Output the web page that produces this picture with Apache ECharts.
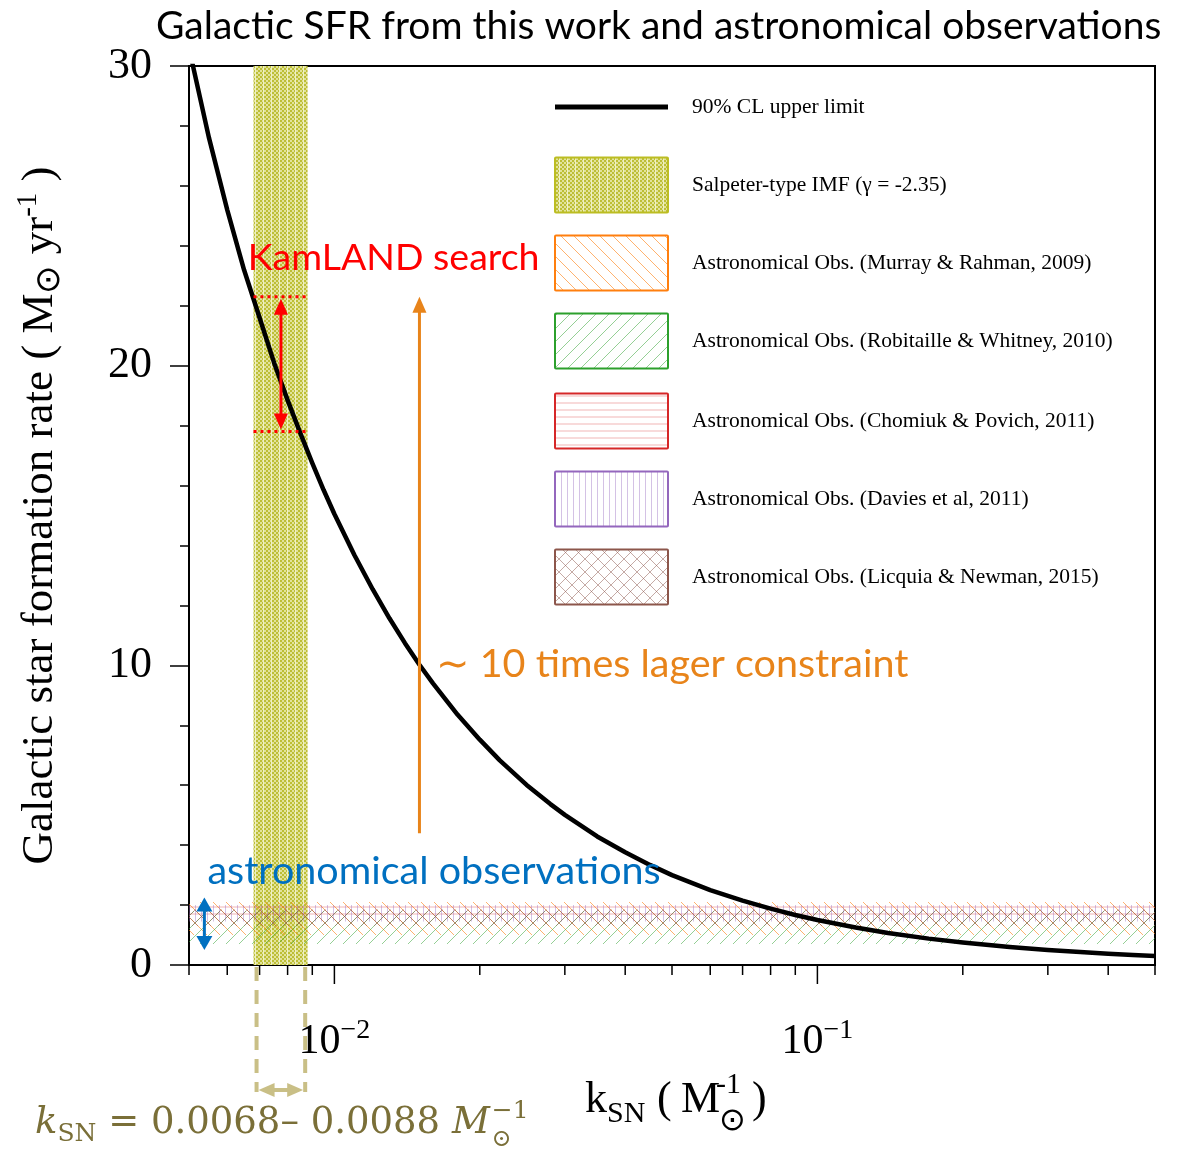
<!DOCTYPE html>
<html><head><meta charset="utf-8">
<script src="https://cdn.jsdelivr.net/npm/echarts@6/dist/echarts.min.js"></script>
<style>html,body{margin:0;padding:0;background:#fff}#c{width:1188px;height:1150px}</style>
</head><body><div id="c"></div>
<script>
// ---------------- data ----------------
const kValues  = [0.005,0.0055,0.006,0.0065,0.007,0.0075,0.008,0.0085,0.009,0.0095,0.010,0.011,0.012,0.013,0.014,0.015,0.016,0.018,0.020,0.022,0.025,0.028,0.030,0.035,0.040,0.045,0.050,0.060,0.070,0.080,0.090,0.100,0.120,0.140,0.170,0.200,0.250,0.300,0.350,0.400,0.450,0.500];
const sfrLimit = [30.6,27.6,25.2,23.2,21.6,20.1,18.85,17.75,16.75,15.85,15.05,13.68,12.54,11.57,10.74,10.02,9.4,8.35,7.52,6.83,6.01,5.37,5.01,4.29,3.76,3.34,3.0,2.5,2.15,1.88,1.67,1.5,1.25,1.07,0.88,0.75,0.6,0.5,0.43,0.375,0.333,0.3];
const imfRange = [0.0068, 0.0088];      // Salpeter-type IMF k_SN range
const sfrRange = [0, 30];
const obsLabels = [
  'Astronomical Obs. (Murray & Rahman, 2009)',
  'Astronomical Obs. (Robitaille & Whitney, 2010)',
  'Astronomical Obs. (Chomiuk & Povich, 2011)',
  'Astronomical Obs. (Davies et al, 2011)',
  'Astronomical Obs. (Licquia & Newman, 2015)'
];
const obsLow  = [1.0, 0.7, 1.55, 1.45, 1.3];
const obsHigh = [2.1, 1.8, 2.1, 2.0, 1.85];
const kRange = [0.005, 0.5];
const xMajorTicks = [0.01, 0.1];
const xMinorTicks = [0.005,0.006,0.007,0.008,0.009,0.02,0.03,0.04,0.05,0.06,0.07,0.08,0.09,0.2,0.3,0.4,0.5];
const kamlandRange = [17.8, 22.3];

// ---------------- patterns ----------------
function makeHatch(type, color, size, bg) {
  const c = document.createElement('canvas');
  c.width = size; c.height = size;
  const g = c.getContext('2d');
  if (bg) { g.fillStyle = bg; g.fillRect(0,0,size,size); }
  g.strokeStyle = color; g.lineWidth = 1;
  g.beginPath();
  if (type === '\\' || type === 'x') {
    for (const d of [-size, 0, size]) { g.moveTo(d, 0); g.lineTo(d + size, size); }
  }
  if (type === '/' || type === 'x') {
    for (const d of [-size, 0, size]) { g.moveTo(d, size); g.lineTo(d + size, 0); }
  }
  if (type === '-') { g.moveTo(0, size/2 + 0.5); g.lineTo(size, size/2 + 0.5); }
  if (type === '|') { g.moveTo(size/2 + 0.5, 0); g.lineTo(size/2 + 0.5, size); }
  g.stroke();
  return {image: c, repeat: 'repeat'};
}
function makeDots() {
  const c = document.createElement('canvas');
  c.width = 8; c.height = 4;
  const g = c.getContext('2d');
  g.fillStyle = '#e2e39a'; g.fillRect(0,0,8,4);
  g.fillStyle = '#bdbe35';
  g.fillRect(0,0,2,2); g.fillRect(4,0,2,2); g.fillRect(2,2,2,2); g.fillRect(6,2,1,2);
  g.fillStyle = '#eef0c4'; g.fillRect(7,0,1,4);
  return {image: c, repeat: 'repeat'};
}
const imfFill = makeDots();
const obsFills = [
  makeHatch('\\', 'rgba(255,127,14,0.6)', 13),
  makeHatch('/',  'rgba(44,160,44,0.5)', 13),
  makeHatch('-',  'rgba(214,39,40,0.35)', 7),
  makeHatch('|',  'rgba(148,103,189,0.4)', 6),
  makeHatch('x',  'rgba(140,86,75,0.5)', 13)
];
const obsBorders = ['#ff7f0e', '#2ca02c', '#d62728', '#9467bd', '#8c564b'];

// ---------------- chart ----------------
const chart = echarts.init(document.getElementById('c'), null, {renderer: 'canvas'});
const SERIF = '"Liberation Serif", "Times New Roman", serif';
const MATH = '"DejaVu Serif", serif';
const SANS = 'Lato, "Open Sans", sans-serif';

function bandRenderer(fill) {
  return function (params, api) {
    const p0 = api.coord([api.value(0), api.value(3)]);
    const p1 = api.coord([api.value(1), api.value(2)]);
    return {type: 'rect', shape: {x: p0[0], y: p0[1], width: p1[0] - p0[0], height: p1[1] - p0[1]},
            style: {fill: fill}};
  };
}

const series = [];
series.push({type: 'custom', name: 'Salpeter-type IMF', renderItem: bandRenderer(imfFill),
  encode: {x: [0, 1], y: [2, 3]}, z: 1, silent: true,
  data: [[imfRange[0], imfRange[1], sfrRange[0], sfrRange[1]]]});
obsLabels.forEach((nm, i) => {
  series.push({type: 'custom', name: nm, renderItem: bandRenderer(obsFills[i]),
    encode: {x: [0, 1], y: [2, 3]}, z: 2, silent: true,
    data: [[kRange[0], kRange[1], obsLow[i], obsHigh[i]]]});
});
series.push({type: 'line', name: '90% CL upper limit', smooth: false, showSymbol: false, z: 5, clip: true,
  lineStyle: {color: '#000', width: 4.5, join: 'round'}, data: kValues.map((k, i) => [k, sfrLimit[i]])});

chart.setOption({
  animation: false,
  backgroundColor: '#fff',
  title: {text: 'Galactic SFR from this work and astronomical observations', left: 151, top: 2,
    textStyle: {fontFamily: SANS, fontSize: 39, fontWeight: 'normal', color: '#000'}},
  grid: {left: 189, right: 33, top: 66, bottom: 185, show: true, borderColor: '#000', borderWidth: 2},
  xAxis: {type: 'log', logBase: 10, min: kRange[0], max: kRange[1],
    axisLine: {lineStyle: {color: '#000', width: 2}},
    axisTick: {show: false}, splitLine: {show: false}, minorTick: {show: false},
    axisLabel: {showMinLabel: false, showMaxLabel: false, margin: 52,
      formatter: v => '{a|10}{b|−' + Math.round(-Math.log10(v)) + '}',
      rich: {a: {fontFamily: SERIF, fontSize: 42, color: '#000'},
             b: {fontFamily: SERIF, fontSize: 28, color: '#000', padding: [0, 0, 22, 0]}}}},
  yAxis: {type: 'value', min: 0, max: 30, interval: 10,
    axisLine: {lineStyle: {color: '#000', width: 2}},
    axisTick: {show: true, inside: false, length: 19, lineStyle: {color: '#000', width: 1.5}},
    minorTick: {show: true, splitNumber: 5, length: 9, lineStyle: {color: '#000', width: 1.5}},
    splitLine: {show: false},
    axisLabel: {fontFamily: SERIF, fontSize: 44, color: '#000', margin: 37},
    name: '{t|Galactic star formation rate ( M}{s|⊙}{t| yr}{p|-1}{t| )}',
    nameLocation: 'middle', nameRotate: 90, nameGap: 122,
    nameTextStyle: {rich: {
      t: {fontFamily: SERIF, fontSize: 45, color: '#000'},
      s: {fontFamily: SERIF, fontSize: 34, color: '#000', padding: [20, 0, 0, 0]},
      p: {fontFamily: SERIF, fontSize: 29, color: '#000', padding: [0, 0, 24, 0]}}}},
  series: series
});

// ---------------- annotations & legend (positions via library scales) ----------------
function px(x, y) { return chart.convertToPixel({gridIndex: 0}, [x, y]); }
const mctx = document.createElement('canvas').getContext('2d');
function tw(text, font) { mctx.font = font; return mctx.measureText(text).width; }
const g = [];
const axisY = px(kRange[0], 0)[1];

// x ticks
xMinorTicks.forEach(k => { const p = px(k, 0); g.push({type: 'line', shape: {x1: p[0], y1: axisY, x2: p[0], y2: axisY + 10}, style: {stroke: '#000', lineWidth: 1.5}}); });
xMajorTicks.forEach(k => { const p = px(k, 0); g.push({type: 'line', shape: {x1: p[0], y1: axisY, x2: p[0], y2: axisY + 19}, style: {stroke: '#000', lineWidth: 1.5}}); });

function arrowHead(tip, dir, w, h, color) {
  const [x, y] = tip; let pts;
  if (dir === 'up') pts = [[x, y], [x - w/2, y + h], [x + w/2, y + h]];
  if (dir === 'down') pts = [[x, y], [x - w/2, y - h], [x + w/2, y - h]];
  if (dir === 'left') pts = [[x, y], [x + h, y - w/2], [x + h, y + w/2]];
  if (dir === 'right') pts = [[x, y], [x - h, y - w/2], [x - h, y + w/2]];
  return {type: 'polygon', shape: {points: pts}, style: {fill: color}, z: 20};
}

// KamLAND
const red = '#ff0000';
kamlandRange.forEach(v => {
  const a = px(imfRange[0], v), b = px(imfRange[1], v);
  g.push({type: 'line', shape: {x1: a[0], y1: a[1], x2: b[0], y2: b[1]}, style: {stroke: red, lineWidth: 3, lineDash: [3, 4]}, z: 20});
});
{
  const top = px(0.00775, kamlandRange[1]), bot = px(0.00775, kamlandRange[0]);
  g.push({type: 'line', shape: {x1: top[0], y1: top[1] + 12, x2: bot[0], y2: bot[1] - 12}, style: {stroke: red, lineWidth: 3}, z: 20});
  g.push(arrowHead([top[0], top[1] + 2], 'up', 14, 16, red));
  g.push(arrowHead([bot[0], bot[1] - 2], 'down', 14, 16, red));
  const t = px(0.00662, 23.6);
  g.push({type: 'text', x: t[0], y: t[1], style: {text: 'KamLAND search', fill: red, font: '37.5px ' + SANS, textVerticalAlign: 'middle'}, z: 20});
}
// orange arrow & text
const orange = '#e8841a';
{
  const b = px(0.015, 4.4), t = px(0.015, 22.3);
  g.push({type: 'line', shape: {x1: b[0], y1: b[1], x2: t[0], y2: t[1] + 14}, style: {stroke: orange, lineWidth: 3}, z: 20});
  g.push(arrowHead([t[0], t[1]], 'up', 14, 16, orange));
  const p = px(0.0162, 10.05);
  g.push({type: 'text', x: p[0], y: p[1], style: {text: '∼ 10 times lager constraint', fill: orange, font: '39.5px ' + SANS, textVerticalAlign: 'middle'}, z: 20});
}
// blue arrow & text
const blue = '#0070c0';
{
  const t = px(0.00538, 2.25), b = px(0.00538, 0.5);
  g.push({type: 'line', shape: {x1: t[0], y1: t[1] + 10, x2: b[0], y2: b[1] - 10}, style: {stroke: blue, lineWidth: 3}, z: 20});
  g.push(arrowHead([t[0], t[1]], 'up', 16, 14, blue));
  g.push(arrowHead([b[0], b[1]], 'down', 16, 14, blue));
  const p = px(0.00546, 3.13);
  g.push({type: 'text', x: p[0], y: p[1], style: {text: 'astronomical observations', fill: blue, font: '39.5px ' + SANS, textVerticalAlign: 'middle'}, z: 20});
}
// olive dashed range below the axis
const khaki = '#c9bf86';
{
  const a = px(0.0069, 0), b = px(0.0087, 0);
  [a, b].forEach(p => g.push({type: 'line', shape: {x1: p[0], y1: axisY + 2, x2: p[0], y2: axisY + 127}, style: {stroke: khaki, lineWidth: 4, lineDash: [14, 9]}, z: 20}));
  const yy = axisY + 125;
  g.push({type: 'line', shape: {x1: a[0] + 12, y1: yy, x2: b[0] - 12, y2: yy}, style: {stroke: khaki, lineWidth: 4}, z: 20});
  g.push(arrowHead([a[0] + 2, yy], 'left', 14, 16, khaki));
  g.push(arrowHead([b[0] - 2, yy], 'right', 14, 16, khaki));
}
// olive formula: k_SN = 0.0068– 0.0088 M_sun^-1
const olive = '#7a6f38';
{
  const cy = 1123;
  const fBig = '37px ' + MATH, fBigI = 'italic 37px ' + MATH, fSub = '25px ' + MATH;
  let x = 35;
  const parts = [
    ['k', fBigI, 0], ['SN', fSub, 11], [' = 0.0068– 0.0088 ', fBig, 0], ['M', fBigI, 0]
  ];
  parts.forEach(([t, f, dy]) => {
    g.push({type: 'text', x: x, y: cy + dy, style: {text: t, fill: olive, font: f, textVerticalAlign: 'middle'}, z: 20});
    x += tw(t, f);
  });
  g.push({type: 'text', x: x + 2, y: cy - 12, style: {text: '−1', fill: olive, font: fSub, textVerticalAlign: 'middle'}, z: 20});
  g.push({type: 'text', x: x + 2, y: cy + 17, style: {text: '⊙', fill: olive, font: '24px ' + MATH, textVerticalAlign: 'middle'}, z: 20});
}

// x-axis name  k_SN ( M_sun^-1 )
{
  const cy = 1100;
  const f = '44px ' + SERIF, fs = '30px ' + SERIF;
  g.push({type: 'text', x: 585, y: cy, style: {text: 'k', fill: '#000', font: f, textVerticalAlign: 'middle'}});
  g.push({type: 'text', x: 607, y: cy + 14, style: {text: 'SN', fill: '#000', font: fs, textVerticalAlign: 'middle'}});
  g.push({type: 'text', x: 657, y: cy, style: {text: '(', fill: '#000', font: f, textVerticalAlign: 'middle'}});
  g.push({type: 'text', x: 681, y: cy, style: {text: 'M', fill: '#000', font: f, textVerticalAlign: 'middle'}});
  g.push({type: 'text', x: 716, y: cy - 15, style: {text: '-1', fill: '#000', font: fs, textVerticalAlign: 'middle'}});
  g.push({type: 'text', x: 719, y: cy + 22, style: {text: '⊙', fill: '#000', font: '32px ' + SERIF, textVerticalAlign: 'middle'}});
  g.push({type: 'text', x: 752, y: cy, style: {text: ')', fill: '#000', font: f, textVerticalAlign: 'middle'}});
}

// legend (drawn manually to reproduce hatched swatches)
{
  const lx = 555, lw = 113, lh = 55, tx = 692;
  const lf = '21.5px ' + SERIF;
  g.push({type: 'line', shape: {x1: lx, y1: 107, x2: lx + lw, y2: 107}, style: {stroke: '#000', lineWidth: 5}});
  g.push({type: 'text', x: tx, y: 107, style: {text: '90% CL upper limit', fill: '#000', font: lf, textVerticalAlign: 'middle'}});
  const rows = [185, 263, 341, 421, 499, 577];
  const labels = ['Salpeter-type IMF (γ = -2.35)'].concat(obsLabels);
  const fills = [imfFill].concat(obsFills);
  const borders = ['#bcbd22'].concat(obsBorders);
  rows.forEach((cy, i) => {
    g.push({type: 'rect', shape: {x: lx, y: cy - lh/2, width: lw, height: lh, r: 1}, style: {fill: fills[i], stroke: borders[i], lineWidth: 2}});
    g.push({type: 'text', x: tx, y: cy, style: {text: labels[i], fill: '#000', font: lf, textVerticalAlign: 'middle'}});
  });
}

chart.setOption({graphic: g});
</script></body></html>
